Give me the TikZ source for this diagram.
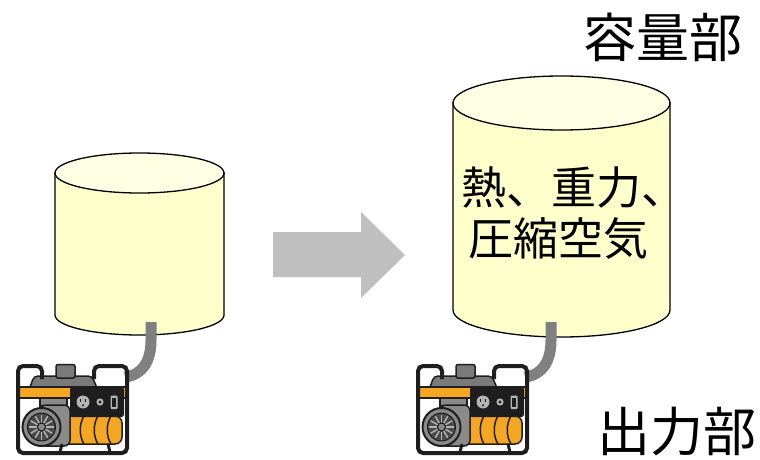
\documentclass[tikz,border=0pt]{standalone}
\usepackage{fontspec}
\newfontfamily\jp{Noto Sans CJK JP}
\definecolor{cylbody}{HTML}{FFFFCC}
\definecolor{cyltop}{HTML}{FFFFE3}
\definecolor{arrowgray}{HTML}{BFBFBF}
\definecolor{cablegray}{HTML}{808080}
\definecolor{genorange}{HTML}{F5A623}
\definecolor{tankgray}{HTML}{7A7A7A}
\definecolor{motorgray}{HTML}{8A8A8A}
\definecolor{wheelgray}{HTML}{4A4A4A}
\definecolor{partgray}{HTML}{B4B4B4}
\definecolor{ink}{HTML}{1E1E1E}
\tikzset{
  cylline/.style={draw=black, line width=1.3pt},
  cable/.style={draw=cablegray, line width=11pt, line cap=butt},
  blockarrow/.style={fill=arrowgray, draw=none},
  bigtext/.style={font=\jp\fontsize{53}{60}\selectfont, inner sep=0pt},
  tanktext/.style={font=\jp\fontsize{45}{52}\selectfont, inner sep=0pt, anchor=west},
  generator/.pic={
    % fuel tank and filler cap
    \filldraw[fill=tankgray, draw=ink, line width=1.5pt, rounded corners=4pt]
      (28,393) -- (34,376) -- (92,376) -- (99,393) -- cycle;
    \filldraw[fill=tankgray, draw=ink, line width=1.5pt, rounded corners=2pt]
      (56,378) -- (56,364.5) -- (75,364.5) -- (75,378) -- cycle;
    % orange band
    \filldraw[fill=genorange, draw=ink, line width=1.2pt] (19,387) rectangle (126,398);
    % motor housing
    \filldraw[fill=motorgray, draw=ink, line width=1.2pt] (40,398) rectangle (67,406);
    % engine body with ribs
    \filldraw[fill=genorange, draw=ink, line width=1.5pt, rounded corners=7pt]
      (58,416) -- (122,416) -- (122,444) -- (58,444) -- cycle;
    \foreach \rx in {84,98,111}{
      \draw[ink, line width=1.5pt] (\rx,416) .. controls (\rx-5,424) and (\rx-5,436) .. (\rx,444);
    }
    \filldraw[fill=motorgray, draw=ink, line width=1.5pt, rounded corners=6pt]
      (40,405) rectangle (70,446);
    % control panel
    \fill[ink, rounded corners=2.5pt] (70,387) rectangle (124,417);
    \fill[partgray] (83,402) circle[radius=6.5pt];
    \fill[ink] (80.2,398.8) rectangle (81.4,402.2);
    \fill[ink] (84.6,398.8) rectangle (85.8,402.2);
    \fill[ink] (83,405.3) circle[radius=1.1pt];
    \fill[partgray] (100,402) circle[radius=3.6pt];
    \fill[ink] (100,402) circle[radius=1.6pt];
    \fill[partgray, rounded corners=1pt] (110.5,395.5) rectangle (117.5,409);
    \fill[ink] (112,397.5) rectangle (116,407);
    % flywheel
    \filldraw[fill=motorgray, draw=ink, line width=2pt] (41.5,427) circle[radius=19pt];
    \filldraw[fill=wheelgray, draw=ink, line width=1pt] (41.5,427) circle[radius=14pt];
    \foreach \a in {0,30,...,330}{
      \draw[partgray, line width=1.4pt] (41.5,427) ++(\a:4.5pt) -- ++(\a:8pt);
    }
    \filldraw[fill=motorgray, draw=ink, line width=1pt] (41.5,427) circle[radius=4pt];
    % feet
    \draw[ink, line width=3pt] (62,444) -- (60,452);
    \draw[ink, line width=3pt] (108,444) -- (110,452);
    % frame with carrying handles
    \draw[ink, line width=4pt, rounded corners=5pt]
      (42,379) |- (18,366) -- (18,453) -- (127,453) -- (127,366) -| (94,379);
  }
}
\begin{document}
\begin{tikzpicture}[x=1pt, y=-1pt]
\useasboundingbox (0,0) rectangle (760,460);
\fill[white] (0,0) rectangle (760,460);

% small store
\filldraw[fill=cylbody, cylline] (55,173) -- (55,315)
  arc[start angle=180, end angle=360, x radius=84.5pt, y radius=20pt] -- (224,173) -- cycle;
\filldraw[fill=cyltop, cylline] (139.5,173) ellipse[x radius=84.5pt, y radius=20pt];
\coordinate (cabA) at (151,322);
\coordinate (plugA) at (125,377);

% large store
\filldraw[fill=cylbody, cylline] (453,103) -- (453,310)
  arc[start angle=180, end angle=360, x radius=108.5pt, y radius=27pt] -- (670,103) -- cycle;
\filldraw[fill=cyltop, cylline] (561.5,103) ellipse[x radius=108.5pt, y radius=27pt];
\coordinate (cabB) at (551,322);
\coordinate (plugB) at (525,377);

% transition arrow
\fill[blockarrow] (273,232) -- (361,232) -- (361,212) -- (405,255) -- (361,298)
  -- (361,277) -- (273,277) -- cycle;

% cables from store to generator
\draw[cable] (cabA) -- ++(0,18) .. controls (151,362) and (142,375) .. (plugA);
\draw[cable] (cabB) -- ++(0,18) .. controls (551,362) and (542,375) .. (plugB);

% generators
\pic (genA) at (0,0) {generator};
\pic (genB) at (400,0) {generator};

% labels
\node[bigtext] (cap) at (663,37) {容量部};
\node[bigtext] (out) at (677,432) {出力部};
\node[tanktext] (line1) at (461,187) {熱、重力、};
\node[tanktext] (line2) at (468,239) {圧縮空気};
\end{tikzpicture}
\end{document}
